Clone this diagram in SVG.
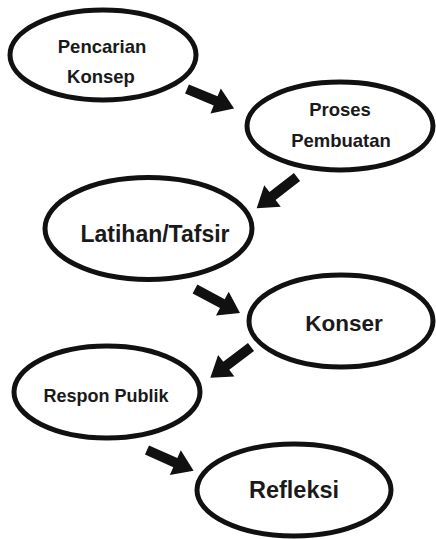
<svg xmlns="http://www.w3.org/2000/svg" width="436" height="539" viewBox="0 0 436 539">
<style>
.node ellipse{fill:#fff;stroke:#111;stroke-width:5}
.node text{font-family:"Liberation Sans",Arial,sans-serif;font-weight:bold;fill:#1a1a1a;text-anchor:middle}
.arrow{fill:#111}
</style>
<defs>
<path id="arr" d="M0,-5 L31,-5 L31,-13.5 L51,0 L31,13.5 L31,5 L0,5 Z"/>
</defs>
<rect width="436" height="539" fill="#fff"/>
<g id="n1" class="node">
<ellipse cx="103" cy="55" rx="93" ry="45"/>
<text x="102" y="53" font-size="18.5">Pencarian</text>
<text x="101" y="83" font-size="18.5">Konsep</text>
</g>
<g id="n2" class="node">
<ellipse cx="340" cy="126" rx="93" ry="44"/>
<text x="340" y="116" font-size="18.5">Proses</text>
<text x="341" y="147" font-size="18.5">Pembuatan</text>
</g>
<g id="n3" class="node">
<ellipse cx="148.5" cy="228.5" rx="103.5" ry="51"/>
<text x="155" y="242" font-size="23">Latihan/Tafsir</text>
</g>
<g id="n4" class="node">
<ellipse cx="341" cy="321" rx="92" ry="46"/>
<text x="344" y="331" font-size="22.5">Konser</text>
</g>
<g id="n5" class="node">
<ellipse cx="107" cy="392" rx="93" ry="46"/>
<text x="106" y="402" font-size="18">Respon Publik</text>
</g>
<g id="n6" class="node">
<ellipse cx="294" cy="490" rx="97" ry="46"/>
<text x="294" y="498" font-size="23.5">Refleksi</text>
</g>
<g id="connectors" class="arrow">
<use href="#arr" transform="translate(187,89) rotate(22.6)"/>
<use href="#arr" transform="translate(297,177) rotate(142.2)"/>
<use href="#arr" transform="translate(195,289) rotate(28.1)"/>
<use href="#arr" transform="translate(251,347) rotate(142.9)"/>
<use href="#arr" transform="translate(147,450) rotate(24)"/>
</g>
</svg>
